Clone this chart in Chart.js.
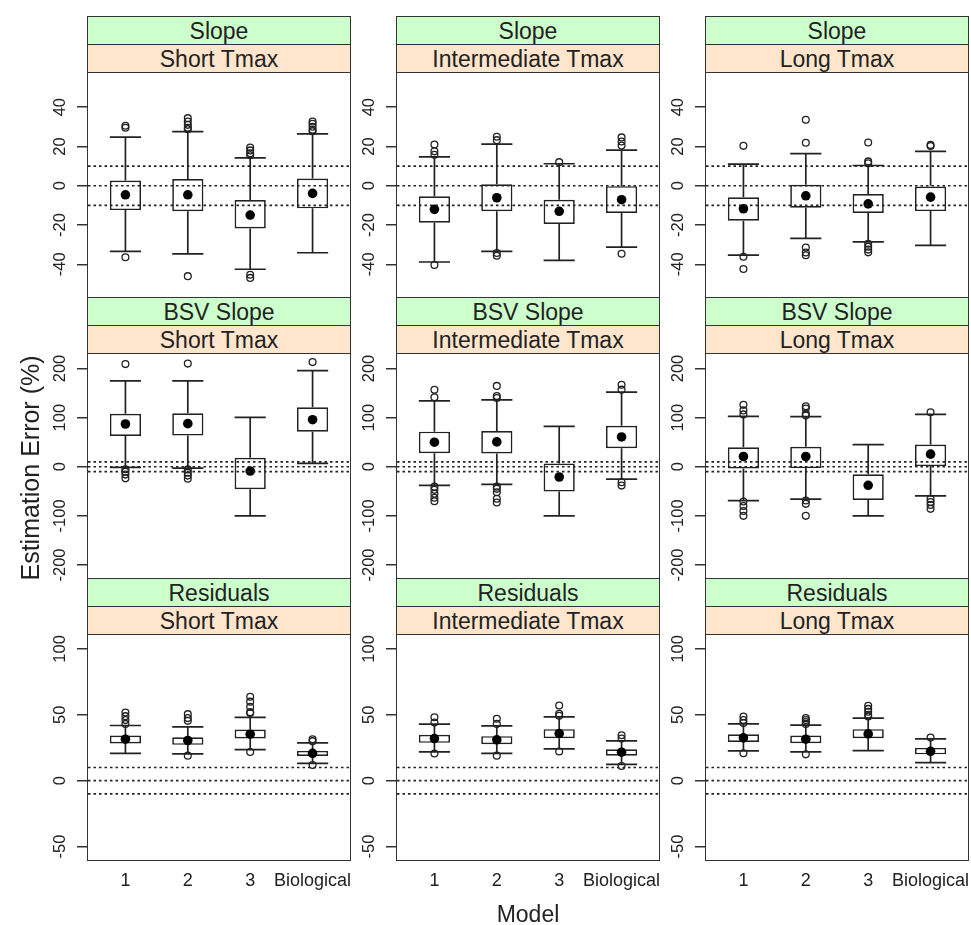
<!DOCTYPE html>
<html>
<head>
<meta charset="utf-8">
<script src="https://cdn.jsdelivr.net/npm/chart.js@4"></script>
<style>
  body { margin: 0; background: #fff; }
  #fig { position: relative; width: 971px; height: 925px; overflow: hidden; background: #fff;
         font-family: "Liberation Sans", Arial, sans-serif; color: #222; }
  .frame { position: absolute; box-sizing: border-box; border: 1.5px solid #333; }
  .strip { height: 27px; border-bottom: 1.5px solid #333; text-align: center; font-size: 23px;
           line-height: 28px; white-space: nowrap; overflow: hidden; }
  .outer { background: #ccffcc; }
  .inner { background: #ffe5cc; }
  canvas { position: absolute; }
  .title { position: absolute; text-align: center; white-space: nowrap; }
</style>
</head>
<body>
<div id="fig"></div>
<script>
// Factor levels
const models = ['1', '2', '3', 'Biological'];
const parameters = ['Slope', 'BSV Slope', 'Residuals'];
const tmaxLevels = ['Short Tmax', 'Intermediate Tmax', 'Long Tmax'];

// Y axis per parameter row
const yLimits = [[-57, 57], [-228, 228], [-60, 110]];
const yTicks = [[-40, -20, 0, 20, 40], [-200, -100, 0, 100, 200], [-50, 0, 50, 100]];
const refLines = [-10, 0, 10];

// Box statistics, one row per panel (Slope: Short, Intermediate, Long; BSV Slope: ...; Residuals: ...),
// one value per model (1, 2, 3, Biological)
const medians = [
  [-4.6, -4.6, -14.9, -3.9],
  [-12, -6.1, -13, -7.1],
  [-11.7, -5.1, -9.2, -5.8],
  [87, 87.7, -8.8, 95.8],
  [50, 50.6, -20.9, 60.7],
  [20.9, 20.9, -37.8, 25.6],
  [31.5, 30.5, 35.3, 20.8],
  [32, 31, 35.8, 21.6],
  [32.5, 31.5, 35.5, 22.3]
];
const lowerQuartiles = [
  [-12.4, -13, -21.7, -11.5],
  [-18.8, -13, -19.5, -13.9],
  [-17.8, -11.2, -13.9, -12.9],
  [62.7, 63.4, -45.9, 71.5],
  [27.7, 27, -50.6, 37.8],
  [-3.4, -2.7, -67.5, 1.3],
  [28.2, 27.2, 32, 18.8],
  [28.7, 27.7, 32.2, 19],
  [29.4, 28.4, 32.2, 20]
];
const upperQuartiles = [
  [2.7, 3.4, -7.3, 3.7],
  [-5.4, 0.8, -7.1, -0.2],
  [-5.9, 0.5, -4.2, 0],
  [108, 109, 18.2, 121],
  [71.5, 72.8, 6.7, 83.6],
  [39.8, 40.5, -15.5, 45.2],
  [34.3, 33, 38.8, 22.6],
  [34.8, 33.8, 39.1, 23.9],
  [35.3, 34.3, 39.1, 24.9]
];
const lowerWhiskers = [
  [-33.4, -34.7, -42.5, -34.1],
  [-38.8, -33.4, -38, -31.2],
  [-35.3, -26.8, -28.6, -30.3],
  [-1.3, -2.7, -100, 6.7],
  [-37.8, -35.8, -100, -25],
  [-68.8, -66, -100, -59.4],
  [20.8, 20.3, 23.6, 13.2],
  [21.8, 20.8, 24.1, 12.4],
  [22.6, 21.8, 22.8, 13.7]
];
const upperWhiskers = [
  [24.7, 27.5, 14.2, 26.4],
  [14.7, 21.2, 11.2, 18.1],
  [11, 16.3, 10.3, 17.5],
  [175, 175, 100.5, 195.6],
  [134, 136, 82.3, 151.8],
  [102.5, 101.9, 45.2, 106.6],
  [41.9, 40.9, 48, 28.7],
  [42.9, 41.6, 48.5, 30.2],
  [43.1, 42.1, 47.5, 31.7]
];
const outliers = [
  [[30.5, 29.5, -36.4], [34.4, 32.7, 31, 29.5, 28.8, -46], [19.5, 18, 16.5, 15.5, -45.3, -46.9], [32.7, 31.5, 30, 28.5, 27.7]],
  [[21, 17.5, 15.8, -40.3], [24.9, 23.2, -34.2, -35.6], [12], [24.6, 22.5, 20.5, -34.6]],
  [[20.3, -36.1, -42.4], [33.6, 21.9, -31.4, -34, -35.4], [22, 12.4, 11.4, -29.5, -31, -32.5, -33.9], [20.8, 20.2]],
  [[209, -5, -10, -16, -23.6], [210, -5.4, -12, -18, -24.3], [], [213]],
  [[156.5, 141.6, -40.5, -47, -55, -63, -70], [164.6, 144, 140, -40.5, -45, -52, -65, -72.8], [], [167, 157, -31.7, -38.4]],
  [[126, 114.7, 106.6, -70.8, -80, -90, -100], [123, 118.7, 108, 104.5, -68.8, -75.5, -100], [], [111, -65.4, -72, -78, -85.7]],
  [[51.8, 49, 46, 43.1], [50.5, 47.5, 45.4, 19], [63.7, 60, 56, 52, 51.3, 21.8], [31.5, 30, 11.9]],
  [[48.2, 44.2, 20.6], [47, 43.1, 19], [57.1, 50.8, 49.2, 22.1], [34.5, 32, 11.2]],
  [[48.7, 46, 43.7, 20.8], [47.5, 46, 44.5, 43.1, 20], [56.9, 54.5, 52.3, 50, 48.7], [32.7]]
];

// ---- layout ----
const FONT = '"Liberation Sans", Arial, sans-serif';
const INK = '#222';
const colLeft = [88, 397, 706];
const panelW = 262;
const panelH = 224;
const frameTop = r => 16 + 281 * r;
const AXIS_W = 70;
const X_AXIS_H = 50;
const LINE_W = 1.7;
const fig = document.getElementById('fig');

// whiskers and caps for every box, drawn underneath the boxes
function whiskerPlugin(p) {
  return {
    id: 'whiskers',
    beforeDatasetsDraw(chart) {
      const xs = chart.scales.x, ys = chart.scales.y, ctx = chart.ctx;
      const half = xs.getPixelForValue(1.25) - xs.getPixelForValue(1);
      ctx.save();
      ctx.strokeStyle = INK;
      ctx.lineWidth = LINE_W;
      models.forEach((m, i) => {
        const x = xs.getPixelForValue(i + 1);
        const segs = [[upperQuartiles[p][i], upperWhiskers[p][i]], [lowerQuartiles[p][i], lowerWhiskers[p][i]]];
        segs.forEach(([from, to]) => {
          const y0 = ys.getPixelForValue(from), y1 = ys.getPixelForValue(to);
          ctx.beginPath();
          ctx.moveTo(x, y0); ctx.lineTo(x, y1);
          ctx.moveTo(x - half, y1); ctx.lineTo(x + half, y1);
          ctx.stroke();
        });
      });
      ctx.restore();
    }
  };
}

// dotted reference lines at -10, 0 and +10 %
const refLinePlugin = {
  id: 'refLines',
  afterDatasetsDraw(chart) {
    const ys = chart.scales.y, ctx = chart.ctx, a = chart.chartArea;
    ctx.save();
    ctx.beginPath(); ctx.rect(a.left, a.top, a.right - a.left, a.bottom - a.top); ctx.clip();
    ctx.strokeStyle = INK;
    ctx.lineWidth = 1.7;
    ctx.setLineDash([2.5, 3]);
    refLines.forEach(v => {
      const y = ys.getPixelForValue(v);
      ctx.beginPath(); ctx.moveTo(a.left, y); ctx.lineTo(a.right, y); ctx.stroke();
    });
    ctx.restore();
  }
};

// vertical tick labels on the y axis, centred on their ticks
const yLabelPlugin = {
  id: 'yLabels',
  afterDraw(chart) {
    const ys = chart.scales.y, ctx = chart.ctx;
    ctx.save();
    ctx.font = '16.5px ' + FONT;
    ctx.fillStyle = INK;
    ctx.textAlign = 'center';
    ctx.textBaseline = 'middle';
    ys.ticks.forEach(t => {
      ctx.save();
      ctx.translate(chart.chartArea.left - 28, ys.getPixelForValue(t.value));
      ctx.rotate(-Math.PI / 2);
      ctx.fillText(String(t.value), 0, 0);
      ctx.restore();
    });
    ctx.restore();
  }
};

function addPanel(p) {
  const r = Math.floor(p / 3), c = p % 3;
  const bottomRow = r === 2;
  const top = frameTop(r);

  // panel frame with the two strips
  const frame = document.createElement('div');
  frame.className = 'frame';
  Object.assign(frame.style, { left: (colLeft[c] - 0.75) + 'px', top: top + 'px', width: (panelW + 1.5) + 'px', height: '282.5px' });
  const s1 = document.createElement('div'); s1.className = 'strip outer'; s1.textContent = parameters[r];
  const s2 = document.createElement('div'); s2.className = 'strip inner'; s2.textContent = tmaxLevels[c];
  frame.appendChild(s1); frame.appendChild(s2);
  fig.appendChild(frame);

  // chart canvas placed so that its plot area lines up with the frame
  const chartTop = top + 57.75;
  const canvasTop = Math.floor(chartTop) - 6;
  const padTop = chartTop - canvasTop;
  const extraBottom = bottomRow ? X_AXIS_H : 6;
  const cv = document.createElement('canvas');
  const w = AXIS_W + panelW + 6;
  const h = Math.round(padTop + panelH + extraBottom);
  cv.width = w; cv.height = h;
  Object.assign(cv.style, { left: (colLeft[c] - AXIS_W) + 'px', top: canvasTop + 'px', width: w + 'px', height: h + 'px' });
  fig.appendChild(cv);

  const outlierPoints = [];
  outliers[p].forEach((vals, i) => vals.forEach(v => outlierPoints.push({ x: i + 1, y: v })));

  new Chart(cv, {
    type: 'bar',
    data: {
      datasets: [
        {
          type: 'scatter', label: 'median',
          data: medians[p].map((v, i) => ({ x: i + 1, y: v })),
          pointRadius: 4.8, backgroundColor: '#000', borderColor: '#000', borderWidth: 0, order: 0
        },
        {
          type: 'scatter', label: 'outliers',
          data: outlierPoints,
          pointRadius: 3.4, borderWidth: 1.3, backgroundColor: 'rgba(0,0,0,0)', borderColor: INK, order: 1
        },
        {
          type: 'bar', label: 'IQR',
          data: lowerQuartiles[p].map((v, i) => ({ x: i + 1, y: [v, upperQuartiles[p][i]] })),
          backgroundColor: '#fff', borderColor: INK, borderWidth: LINE_W, borderSkipped: false,
          barPercentage: 0.5, categoryPercentage: 1, order: 2
        }
      ]
    },
    options: {
      responsive: false,
      animation: false,
      events: [],
      layout: { padding: { left: 0, right: 6, top: padTop, bottom: h - padTop - panelH - (bottomRow ? X_AXIS_H : 0) } },
      plugins: { legend: { display: false }, tooltip: { enabled: false } },
      scales: {
        x: {
          type: 'linear', min: 0.4, max: 4.6, offset: false, display: bottomRow,
          grid: { display: false }, border: { display: false },
          afterBuildTicks: s => { s.ticks = models.map((m, i) => ({ value: i + 1 })); },
          afterFit: s => { if (bottomRow) s.height = X_AXIS_H; },
          ticks: {
            callback: v => models[v - 1], autoSkip: false, maxRotation: 0, minRotation: 0,
            font: { size: 18, family: FONT }, color: INK, padding: 2
          }
        },
        y: {
          type: 'linear', min: yLimits[r][0], max: yLimits[r][1],
          afterBuildTicks: s => { s.ticks = yTicks[r].map(v => ({ value: v })); },
          afterFit: s => { s.width = AXIS_W; },
          ticks: { display: false },
          grid: { display: true, drawOnChartArea: false, drawTicks: true, tickLength: 11, color: '#333', lineWidth: 1.5 },
          border: { display: false }
        }
      }
    },
    plugins: [whiskerPlugin(p), refLinePlugin, yLabelPlugin]
  });
}

for (let p = 0; p < 9; p++) addPanel(p);

// axis titles
const yTitle = document.createElement('div');
yTitle.className = 'title';
yTitle.textContent = 'Estimation Error (%)';
Object.assign(yTitle.style, { left: (30 - 200) + 'px', top: (468 - 16) + 'px', width: '400px', height: '32px',
  lineHeight: '32px', fontSize: '25px', transform: 'rotate(-90deg)' });
fig.appendChild(yTitle);

const xTitle = document.createElement('div');
xTitle.className = 'title';
xTitle.textContent = 'Model';
Object.assign(xTitle.style, { left: (528 - 100) + 'px', top: (914 - 14) + 'px', width: '200px', height: '28px',
  lineHeight: '28px', fontSize: '23px' });
fig.appendChild(xTitle);
</script>
</body>
</html>
